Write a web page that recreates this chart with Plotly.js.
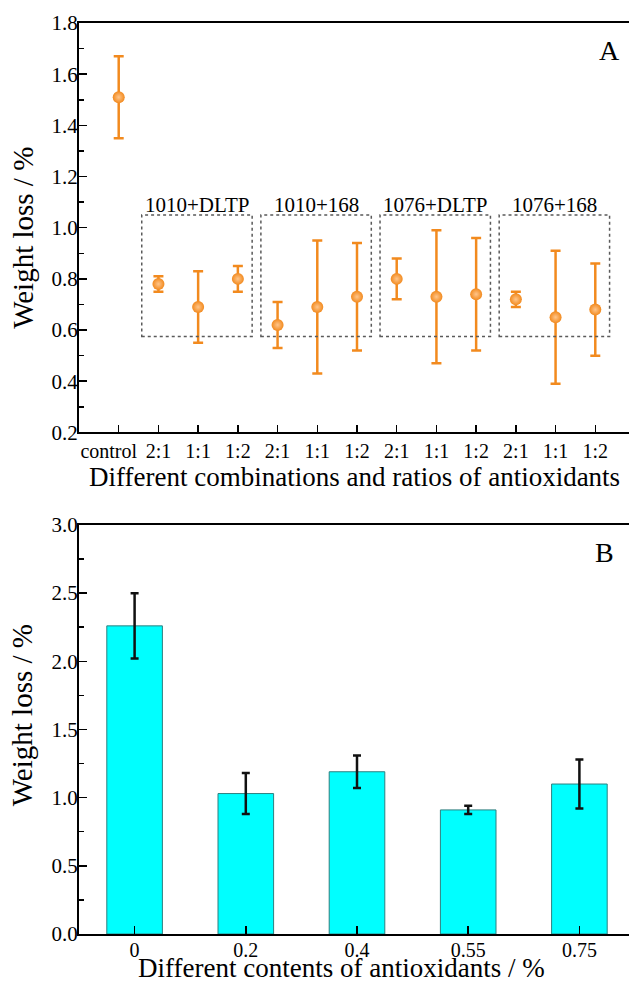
<!DOCTYPE html>
<html>
<head>
<meta charset="utf-8">
<script src="https://cdn.plot.ly/plotly-3.0.1.min.js"></script>
<style>
html,body{margin:0;padding:0;overflow:hidden;background:#fff;}
#chart{width:660px;height:982px;}
</style>
</head>
<body>
<div id="chart"></div>
<script>
// ---- Panel A data ----
const ratioLabels = ['control\u00a0\u00a0\u00a0\u00a0','2:1','1:1','1:2','2:1','1:1','1:2','2:1','1:1','1:2','2:1','1:1','1:2'];
const groupNames = ['1010+DLTP','1010+168','1076+DLTP','1076+168'];
const lossA = [1.51, 0.78, 0.69, 0.80, 0.62, 0.69, 0.73, 0.80, 0.73, 0.74, 0.72, 0.65, 0.68];
const errA  = [0.16, 0.03, 0.14, 0.05, 0.09, 0.26, 0.21, 0.08, 0.26, 0.22, 0.03, 0.26, 0.18];
const yTicksA = [0.2,0.4,0.6,0.8,1.0,1.2,1.4,1.6,1.8];

// ---- Panel B data ----
const contents = ['0','0.2','0.4','0.55','0.75'];
const lossB = [2.26, 1.03, 1.19, 0.91, 1.10];
const errB  = [0.24, 0.15, 0.12, 0.03, 0.18];
const yTicksB = [0.0,0.5,1.0,1.5,2.0,2.5,3.0];

const FONT = 'Liberation Serif, Times New Roman, serif';
const ORANGE = '#F28A1E';

const xA = ratioLabels.map((_, i) => i);

const traces = [
  {
    type: 'scatter', mode: 'markers',
    x: xA, y: lossA, xaxis: 'x', yaxis: 'y',
    marker: {size: 12, color: ORANGE, gradient: {type: 'radial', color: '#FFC58A'}, line: {width: 0}},
    error_y: {type: 'data', array: errA, visible: true, color: ORANGE, thickness: 2.5, width: 5},
    showlegend: false, hoverinfo: 'x+y'
  },
  {
    type: 'bar',
    x: contents, y: lossB, xaxis: 'x2', yaxis: 'y2',
    width: 0.5,
    marker: {color: '#00FFFF', line: {color: '#2E7F7F', width: 1}},
    error_y: {type: 'data', array: errB, visible: true, color: '#111', thickness: 2.5, width: 4},
    showlegend: false
  }
];

// dashed boxes around groups + group labels
const shapes = [];
const annotations = [];
groupNames.forEach((g, k) => {
  const first = 1 + 3 * k, last = 3 + 3 * k;
  shapes.push({
    type: 'rect', xref: 'x', yref: 'y',
    x0: first - 0.42, x1: last + 0.36, y0: 0.575, y1: 1.05,
    line: {color: '#5a5a5a', width: 1.5, dash: 'dot'}, fillcolor: 'rgba(0,0,0,0)'
  });
  annotations.push({
    xref: 'x', yref: 'y', x: (first + last) / 2 - 0.03, y: 1.088,
    text: g, showarrow: false, xanchor: 'center', yanchor: 'middle',
    font: {family: FONT, size: 21, color: '#000'}
  });
});

// axis titles (placed precisely) and panel letters
const titleFont = {family: FONT, size: 27, color: '#000'};
annotations.push(
  {xref: 'paper', yref: 'paper', x: -0.101, y: 0.764, text: 'Weight loss / %', textangle: -90,
   showarrow: false, xanchor: 'center', yanchor: 'middle', font: {family: FONT, size: 29, color: '#000'}},
  {xref: 'paper', yref: 'paper', x: -0.101, y: 0.240, text: 'Weight loss / %', textangle: -90,
   showarrow: false, xanchor: 'center', yanchor: 'middle', font: {family: FONT, size: 29, color: '#000'}},
  {xref: 'paper', yref: 'paper', x: 0.495, y: 0.502, text: 'Different combinations and ratios of antioxidants',
   showarrow: false, xanchor: 'center', yanchor: 'middle', font: titleFont},
  {xref: 'paper', yref: 'paper', x: 0.473, y: -0.037, text: 'Different contents of antioxidants / %',
   showarrow: false, xanchor: 'center', yanchor: 'middle', font: titleFont},
  {xref: 'paper', yref: 'paper', x: 0.955, y: 0.970, text: 'A', showarrow: false,
   xanchor: 'center', yanchor: 'middle', font: {family: FONT, size: 28, color: '#000'}},
  {xref: 'paper', yref: 'paper', x: 0.946, y: 0.419, text: 'B', showarrow: false,
   xanchor: 'center', yanchor: 'middle', font: {family: FONT, size: 28, color: '#000'}}
);

const axBase = {
  showline: true, linecolor: '#000', linewidth: 2, mirror: true,
  showgrid: false, zeroline: false, ticks: 'inside', tickcolor: '#000', tickwidth: 1.5,
  tickfont: {family: FONT, size: 20, color: '#000'}
};
const yTickFont = {family: FONT, size: 21, color: '#000'};

const layout = {
  width: 660, height: 982,
  margin: {l: 79, r: 25, t: 23, b: 48},
  paper_bgcolor: '#fff', plot_bgcolor: '#fff',
  font: {family: FONT, color: '#000'},
  xaxis: Object.assign({}, axBase, {
    domain: [0, 1], anchor: 'y', range: [-1, 13],
    tickmode: 'array', tickvals: xA, ticktext: ratioLabels, ticklen: 7,
    tickangle: 0, ticklabelstandoff: 0
  }),
  yaxis: Object.assign({}, axBase, {
    domain: [0.5506, 1], anchor: 'x', range: [0.2, 1.8],
    tickmode: 'array', tickvals: yTicksA, ticktext: yTicksA.map(v => v.toFixed(1)), ticklen: 8,
    ticklabelstandoff: -5, tickfont: yTickFont,
    minor: {dtick: 0.1, ticks: 'inside', ticklen: 5, tickcolor: '#000', tickwidth: 1.5}
  }),
  xaxis2: Object.assign({}, axBase, {
    domain: [0, 1], anchor: 'y2', type: 'category', range: [-0.5, 4.5], ticklen: 8,
    tickangle: 0, ticklabelstandoff: -3
  }),
  yaxis2: Object.assign({}, axBase, {
    domain: [0, 0.449], anchor: 'x2', range: [0, 3.0],
    tickmode: 'array', tickvals: yTicksB, ticktext: yTicksB.map(v => v.toFixed(1)), ticklen: 8,
    ticklabelstandoff: -5, tickfont: yTickFont,
    minor: {dtick: 0.25, ticks: 'inside', ticklen: 5, tickcolor: '#000', tickwidth: 1.5}
  }),
  shapes: shapes,
  annotations: annotations
};

Plotly.newPlot('chart', traces, layout, {displayModeBar: false, staticPlot: true});
</script>
</body>
</html>
